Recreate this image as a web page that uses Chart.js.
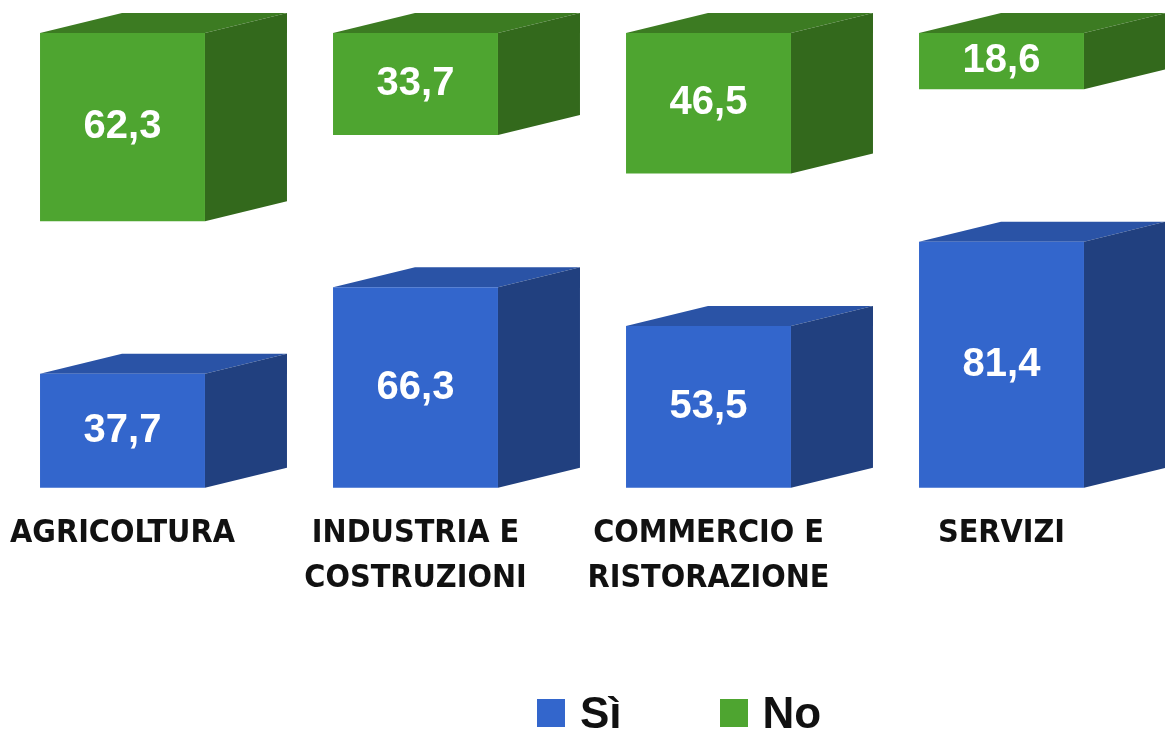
<!DOCTYPE html>
<html lang="it">
<head>
<meta charset="utf-8">
<title>Sì / No per settore</title>
<script src="https://cdn.jsdelivr.net/npm/chart.js@4/dist/chart.umd.min.js"></script>
<style>
  html, body { margin: 0; padding: 0; background: #fff; overflow: hidden; }
  #contenitore { position: relative; width: 1165px; height: 731px; overflow: hidden; }
  #grafico { position: absolute; left: -24px; top: 0; }
  #legenda { position: absolute; left: 537px; top: 691px; margin: 0; padding: 0; list-style: none; display: flex; gap: 98px; }
  #legenda li { display: flex; align-items: center; font: bold 44px "Liberation Sans", Arial, sans-serif; line-height: 44px; color: #111; }
  #legenda span { display: inline-block; width: 28px; height: 28px; margin-right: 15px; }
</style>
</head>
<body>
<div id="contenitore">
  <canvas id="grafico" width="1189" height="731"></canvas>
  <ul id="legenda"></ul>
</div>
<script>
//Dati del grafico
const categorie = ['AGRICOLTURA', ['INDUSTRIA E', 'COSTRUZIONI'], ['COMMERCIO E', 'RISTORAZIONE'], 'SERVIZI'];
const serie = ['Sì', 'No'];
const valoriSi = [37.7, 66.3, 53.5, 81.4];
const valoriNo = [62.3, 33.7, 46.5, 18.6];

//Colori delle facce dei parallelepipedi
const blu = { fronte: '#3366cc', cima: '#2a53a6', lato: '#21407f' };
const verde = { fronte: '#4ea530', cima: '#3c7b22', lato: '#33691c' };

//Profondità dell'effetto 3D (px)
const prof = { dx: 82, dy: 20 };

//Disegna cima e lato di ogni barra, poi il valore al centro della faccia frontale
const scatola3d = {
  id: 'scatola3d',
  beforeDatasetsDraw(chart) {
    const ctx = chart.ctx;
    chart.data.datasets.forEach((ds, i) => {
      chart.getDatasetMeta(i).data.forEach(barra => {
        const { x, y, base, width } = barra.getProps(['x', 'y', 'base', 'width'], true);
        const sx = x - width / 2;
        const dx = x + width / 2;
        const alto = Math.min(y, base);
        const basso = Math.max(y, base);
        ctx.save();
        //cima
        ctx.fillStyle = ds.coloreCima;
        ctx.beginPath();
        ctx.moveTo(sx, alto);
        ctx.lineTo(sx + prof.dx, alto - prof.dy);
        ctx.lineTo(dx + prof.dx, alto - prof.dy);
        ctx.lineTo(dx, alto);
        ctx.closePath();
        ctx.fill();
        //lato
        ctx.fillStyle = ds.coloreLato;
        ctx.beginPath();
        ctx.moveTo(dx, alto);
        ctx.lineTo(dx + prof.dx, alto - prof.dy);
        ctx.lineTo(dx + prof.dx, basso - prof.dy);
        ctx.lineTo(dx, basso);
        ctx.closePath();
        ctx.fill();
        ctx.restore();
      });
    });
  },
  afterDatasetsDraw(chart) {
    const ctx = chart.ctx;
    ctx.save();
    ctx.font = 'bold 40px "Liberation Sans", Arial, sans-serif';
    ctx.fillStyle = '#ffffff';
    ctx.textAlign = 'center';
    ctx.textBaseline = 'middle';
    chart.data.datasets.forEach((ds, i) => {
      chart.getDatasetMeta(i).data.forEach((barra, j) => {
        const { x, y, base } = barra.getProps(['x', 'y', 'base'], true);
        const testo = ds.data[j].toFixed(1).replace('.', ',');
        ctx.fillText(testo, x, (y + base) / 2);
      });
    });
    ctx.restore();
  }
};

//Legenda in HTML
const legendaHtml = {
  id: 'legendaHtml',
  afterUpdate(chart) {
    const ul = document.getElementById('legenda');
    ul.innerHTML = '';
    chart.data.datasets.forEach(ds => {
      const li = document.createElement('li');
      const box = document.createElement('span');
      box.style.background = ds.backgroundColor;
      li.appendChild(box);
      li.appendChild(document.createTextNode(ds.label));
      ul.appendChild(li);
    });
  }
};

const ctx = document.getElementById('grafico');
const grafico = new Chart(ctx, {
  type: 'bar',
  data: {
    labels: categorie,
    datasets: [
      {
        label: serie[0],
        data: valoriSi,
        yAxisID: 'y',
        backgroundColor: blu.fronte,
        coloreCima: blu.cima,
        coloreLato: blu.lato
      },
      {
        label: serie[1],
        data: valoriNo,
        yAxisID: 'y2',
        backgroundColor: verde.fronte,
        coloreCima: verde.cima,
        coloreLato: verde.lato
      }
    ]
  },
  options: {
    responsive: false,
    animation: false,
    layout: { padding: { top: 33, left: 0, right: 17, bottom: 107 } },
    datasets: {
      bar: { grouped: false, categoryPercentage: 0.563, barPercentage: 1, clip: false }
    },
    scales: {
      x: {
        grid: { display: false, drawTicks: false },
        border: { display: false },
        ticks: {
          color: '#111',
          padding: 23,
          maxRotation: 0,
          autoSkip: false,
          font: { family: '"DejaVu Sans Condensed", "Liberation Sans Narrow", "Liberation Sans", sans-serif', size: 32, weight: 'bold', lineHeight: 1.41 }
        }
      },
      y: { axis: 'y', display: false, min: 0, max: 150.4 },
      y2: { axis: 'y', display: false, min: 0, max: 150.4, reverse: true }
    },
    plugins: {
      legend: { display: false },
      tooltip: { enabled: false }
    }
  },
  plugins: [scatola3d, legendaHtml]
});
</script>
</body>
</html>
